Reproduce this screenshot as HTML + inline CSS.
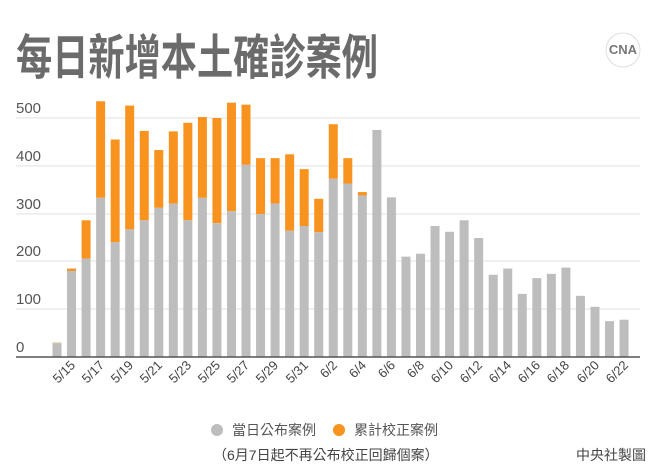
<!DOCTYPE html>
<html><head><meta charset="utf-8"><style>
html,body{margin:0;padding:0;background:#fff;width:659px;height:467px;overflow:hidden}
svg{display:block;font-family:"Liberation Sans","Noto Sans CJK TC",sans-serif}
</style></head><body>
<svg id="s" width="659" height="467" viewBox="0 0 659 467" xmlns="http://www.w3.org/2000/svg">
<text x="16" y="74" font-size="48" font-weight="bold" fill="#6b6b6b" font-family="'Noto Sans CJK TC',sans-serif" textLength="362" lengthAdjust="spacingAndGlyphs">每日新增本土確診案例</text>
<circle cx="623" cy="50" r="17" fill="#fff" stroke="#ddd"/>
<text x="623" y="54" font-size="13" font-weight="bold" fill="#777" text-anchor="middle">CNA</text>
<g stroke="#ececec" stroke-width="1.5">
<line x1="16" x2="640" y1="118" y2="118"/><line x1="16" x2="640" y1="166" y2="166"/>
<line x1="16" x2="640" y1="214" y2="214"/><line x1="16" x2="640" y1="261" y2="261"/>
<line x1="16" x2="640" y1="309" y2="309"/></g>
<g font-size="15" fill="#555">
<text x="16" y="113">500</text><text x="16" y="161">400</text><text x="16" y="209">300</text>
<text x="16" y="256">200</text><text x="16" y="304">100</text><text x="16" y="352">0</text></g>
<g id="bars"></g>
<line x1="16" x2="640" y1="357" y2="357" stroke="#555" stroke-width="1.5"/>
<g font-size="13" fill="#444" text-anchor="end">
<text transform="translate(76,366) rotate(-45)">5/15</text>
<text transform="translate(105,366) rotate(-45)">5/17</text>
<text transform="translate(134,366) rotate(-45)">5/19</text>
<text transform="translate(163,366) rotate(-45)">5/21</text>
<text transform="translate(192,366) rotate(-45)">5/23</text>
<text transform="translate(221,366) rotate(-45)">5/25</text>
<text transform="translate(250,366) rotate(-45)">5/27</text>
<text transform="translate(279,366) rotate(-45)">5/29</text>
<text transform="translate(309,366) rotate(-45)">5/31</text>
<text transform="translate(338,366) rotate(-45)">6/2</text>
<text transform="translate(367,366) rotate(-45)">6/4</text>
<text transform="translate(396,366) rotate(-45)">6/6</text>
<text transform="translate(425,366) rotate(-45)">6/8</text>
<text transform="translate(454,366) rotate(-45)">6/10</text>
<text transform="translate(483,366) rotate(-45)">6/12</text>
<text transform="translate(512,366) rotate(-45)">6/14</text>
<text transform="translate(541,366) rotate(-45)">6/16</text>
<text transform="translate(570,366) rotate(-45)">6/18</text>
<text transform="translate(600,366) rotate(-45)">6/20</text>
<text transform="translate(629,366) rotate(-45)">6/22</text>
</g>
<circle cx="217" cy="430" r="6" fill="#bdbdbd"/>
<text x="232" y="435" font-size="14" fill="#555">當日公布案例</text>
<circle cx="339" cy="430" r="6" fill="#f7931e"/>
<text x="354" y="435" font-size="14" fill="#555">累計校正案例</text>
<text x="213" y="460" font-size="14" fill="#444">（6月7日起不再公布校正回歸個案）</text>
<text x="646" y="460" font-size="14" fill="#444" text-anchor="end">中央社製圖</text>
</svg>
<script>
var g=[29,180,206,333,240,267,286,312,321,286,333,280,305,402,299,321,264,274,261,373,363,338,475,334,210,216,274,262,286,249,172,185,132,165,174,187,128,105,75,78];
var t=[30,185,286,535,455,526,473,433,472,490,502,500,532,528,416,416,424,393,331,487,416,345];
var k=0.478,z=357,h='';
for(var i=0;i<g.length;i++){var x=57+14.54*i-4.5;
var tot=t[i]||g[i];
if(tot>g[i])h+='<rect x="'+x+'" y="'+(z-tot*k)+'" width="9" height="'+((tot-g[i])*k)+'" fill="#f7931e"/>';
h+='<rect x="'+x+'" y="'+(z-g[i]*k)+'" width="9" height="'+(g[i]*k)+'" fill="#bdbdbd"/>';}
document.getElementById('bars').innerHTML=h;
</script>
</body></html>
